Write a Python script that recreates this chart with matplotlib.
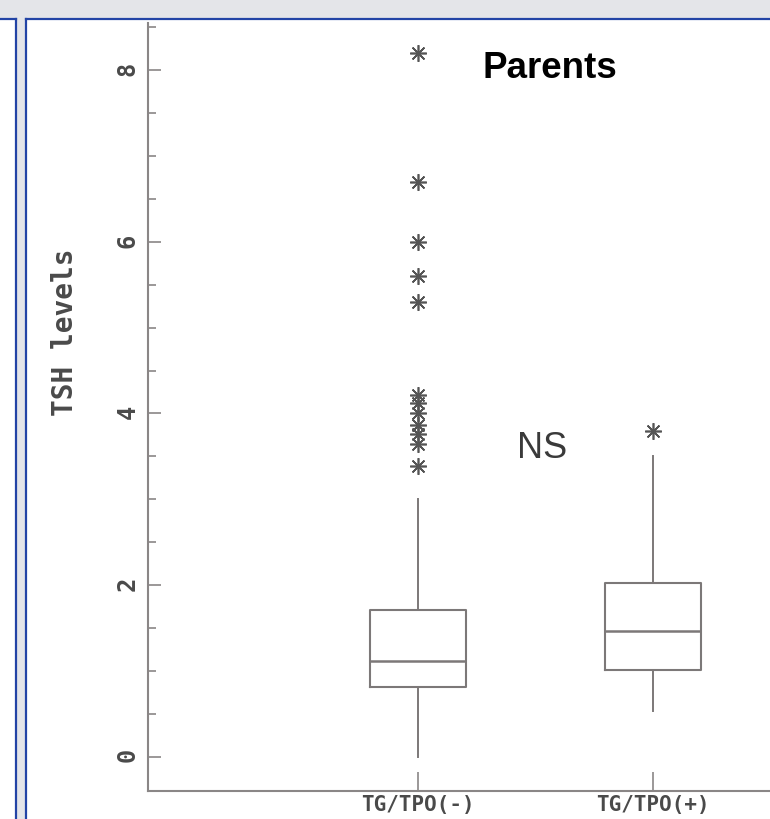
import matplotlib.pyplot as plt
from matplotlib.lines import Line2D
from matplotlib.patches import Rectangle

# values (TSH levels, parents)
groups = ['TG/TPO(-)', 'TG/TPO(+)']
q1 = [0.81, 1.01]
medians = [1.11, 1.47]
q3 = [1.71, 2.02]
whis_lo = [0.0, 0.53]
whis_hi = [3.0, 3.5]
outliers_neg = [8.2, 6.7, 6.0, 5.6, 5.3, 4.22, 4.12, 4.01, 3.87, 3.76, 3.64, 3.39]
outliers_pos = [3.8]

W, H = 770, 820
fig = plt.figure(figsize=(W / 100, H / 100), dpi=100)
fig.patch.set_facecolor('white')

def px(x, y):
    # pixel (from top-left) -> figure fraction
    return x / W, 1 - y / H

# page frame: grey band, grey gutter, blue panel borders
gray = '#e4e5e9'
blue = '#2344a6'
fig.patches.append(Rectangle(px(0, 19), 1, 19 / H, transform=fig.transFigure,
                             facecolor=gray, edgecolor='none', zorder=0))
fig.patches.append(Rectangle(px(17, 820), 9 / W, 801 / H, transform=fig.transFigure,
                             facecolor=gray, edgecolor='none', zorder=0))
for (x0, y0), (x1, y1) in [((0, 20), (16, 20)), ((26, 20), (770, 20)),
                           ((16, 20), (16, 820)), ((26, 20), (26, 820))]:
    a, b = px(x0, y0)
    c, d = px(x1, y1)
    fig.add_artist(Line2D([a, c], [b, d], transform=fig.transFigure,
                          color=blue, lw=1.6, zorder=1))

ax = fig.add_axes([148 / W, 28 / H, 622 / W, 768 / H])
ax.set_facecolor('none')

stats = []
for i, g in enumerate(groups):
    stats.append({'label': g, 'q1': q1[i], 'med': medians[i], 'q3': q3[i],
                  'whislo': whis_lo[i], 'whishi': whis_hi[i],
                  'fliers': outliers_neg if i == 0 else outliers_pos})

line_c = '#7c7878'
ax.bxp(stats, positions=[1, 2], widths=0.41, showcaps=False,
       boxprops=dict(color=line_c, lw=1.5),
       whiskerprops=dict(color=line_c, lw=1.4),
       medianprops=dict(color=line_c, lw=1.8),
       flierprops=dict(marker=(8, 2, 0), markersize=12, markeredgecolor='#555555',
                       markeredgewidth=1.2, linestyle='none'))

ax.set_xlim(-0.149, 2.498)
ax.set_ylim(-0.4, 8.55)
ax.spines['top'].set_visible(False)
ax.spines['right'].set_visible(False)
for s in ['left', 'bottom']:
    ax.spines[s].set_color('#8a8686')
    ax.spines[s].set_linewidth(1.5)

ax.set_yticks([0, 2, 4, 6, 8])
ax.set_yticklabels(['0', '2', '4', '6', '8'], rotation=90, family='DejaVu Sans Mono',
                   fontsize=17, weight='bold', color='#4a4a4a')
ax.set_yticks([0.5, 1, 1.5, 2.5, 3, 3.5, 4.5, 5, 5.5, 6.5, 7, 7.5, 8.5], minor=True)
ax.tick_params(axis='y', which='major', direction='in', length=9.5, width=1.2,
               color='#8a8686', pad=6)
ax.tick_params(axis='y', which='minor', direction='in', length=6, width=1.2,
               color='#8a8686')
ax.set_xticks([1, 2])
ax.set_xticklabels(groups, family='DejaVu Sans Mono', fontsize=15, weight='bold',
                   color='#4a4a4a')
ax.tick_params(axis='x', direction='in', length=13.5, width=1.2, color='#8a8686', pad=2)

ax.set_ylabel('TSH levels', family='DejaVu Sans Mono', fontsize=20, weight='bold',
              color='#4a4a4a')
ax.yaxis.set_label_coords(-0.111, 0.599)

ax.text(550 / W, px(0, 68)[1], 'Parents', transform=fig.transFigure,
        ha='center', va='center', family='Liberation Sans', weight='bold',
        fontsize=26.5, color='black')
ax.text(542 / W, px(0, 449)[1], 'NS', transform=fig.transFigure,
        ha='center', va='center', family='Liberation Sans', fontsize=26,
        color='#3a3a3a')

plt.savefig('out.png', dpi=100)
